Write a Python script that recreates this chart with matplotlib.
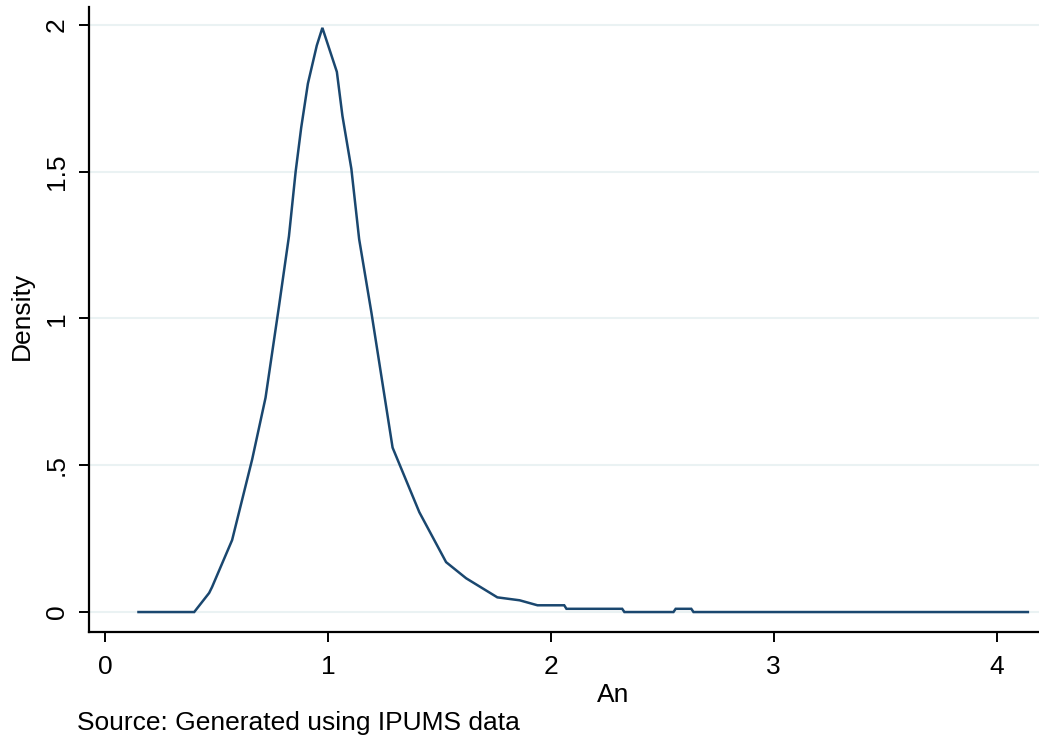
import matplotlib
matplotlib.use('Agg')
import matplotlib.pyplot as plt

# kernel density estimate of An, read off at the curve's vertices
an_values = [0.15, 0.40, 0.467, 0.48, 0.57, 0.66, 0.72, 0.78, 0.825, 0.855,
             0.88, 0.91, 0.95, 0.975, 1.04, 1.065, 1.105, 1.14, 1.195, 1.29,
             1.41, 1.53, 1.62, 1.76, 1.86, 1.94, 2.06, 2.07, 2.32, 2.33,
             2.55, 2.56, 2.63, 2.64, 4.14]
density = [0.0, 0.0, 0.065, 0.085, 0.245, 0.52, 0.73, 1.04, 1.28, 1.50,
           1.65, 1.80, 1.93, 1.99, 1.84, 1.69, 1.51, 1.27, 1.02, 0.56,
           0.34, 0.17, 0.115, 0.05, 0.04, 0.023, 0.023, 0.011, 0.011, 0.0,
           0.0, 0.011, 0.011, 0.0, 0.0]

x_ticks = [0, 1, 2, 3, 4]
x_tick_labels = ['0', '1', '2', '3', '4']
y_ticks = [0, 0.5, 1, 1.5, 2]
y_tick_labels = ['0', '.5', '1', '1.5', '2']

LINE_COLOR = '#1a476f'
GRID_COLOR = '#eaf2f3'
FONT = 'Liberation Sans'
FS = 19

plt.rcParams['font.family'] = FONT

fig = plt.figure(figsize=(10.39, 7.42), dpi=100)
ax = fig.add_axes([89 / 1039, 1 - 632 / 742, 950 / 1039, 625 / 742])

ax.plot(an_values, density, color=LINE_COLOR, linewidth=1.8,
        solid_joinstyle='miter', zorder=3)

ax.set_xlim(-0.072, 4.19)
ax.set_ylim(-0.068, 2.061)

ax.set_yticks(y_ticks)
ax.set_yticklabels(y_tick_labels, rotation=90, va='center', fontsize=FS)
ax.set_xticks(x_ticks)
ax.set_xticklabels(x_tick_labels, fontsize=FS)

ax.yaxis.grid(True, color=GRID_COLOR, linewidth=1.5, zorder=0)
ax.set_axisbelow(True)

for side in ('top', 'right'):
    ax.spines[side].set_visible(False)
for side in ('left', 'bottom'):
    ax.spines[side].set_linewidth(1.6)
    ax.spines[side].set_color('black')

ax.tick_params(axis='both', direction='out', length=7.5, width=1.4,
               color='black', labelcolor='black')
ax.tick_params(axis='x', pad=9)
ax.tick_params(axis='y', pad=7)

ax.set_xlabel('An', fontsize=FS)
ax.xaxis.set_label_coords((613 - 89) / 950, -(695 - 632) / 625)
ax.xaxis.label.set_va('center')
ax.set_ylabel('Density', fontsize=FS)
ax.yaxis.set_label_coords((22 - 89) / 950, (632 - 316) / 625)
ax.yaxis.label.set_va('center')

fig.text(77 / 1039, 1 - 723 / 742, 'Source: Generated using IPUMS data',
         fontsize=FS, ha='left', va='center')

fig.savefig('out.png', dpi=100, facecolor='white')
